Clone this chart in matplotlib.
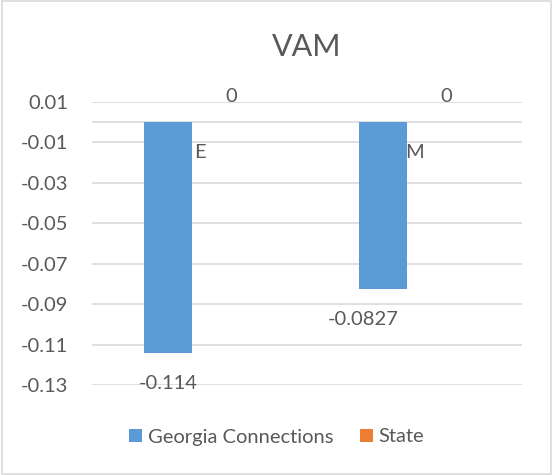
import matplotlib.pyplot as plt
import numpy as np
from matplotlib.patches import Rectangle

plt.rcParams['font.family'] = ['Lato', 'DejaVu Sans']

categories = ['E', 'M']
georgia = [-0.114, -0.0827]
state = [0, 0]
georgia_labels = ['-0.114', '-0.0827']
state_labels = ['0', '0']
yticks = [0.01, -0.01, -0.03, -0.05, -0.07, -0.09, -0.11, -0.13]

TXT = '#595959'
GRID = '#d9d9d9'
BLUE = '#5B9BD5'
ORANGE = '#ED7D31'

fig = plt.figure(figsize=(5.53, 4.75), dpi=100)
ax = fig.add_axes([0.1664, 0.1895, 0.7776, 0.5965])

x = np.arange(len(categories))
w = 0.223
off = 0.1465
ax.bar(x - off, georgia, w, color=BLUE, label='Georgia Connections', zorder=3)
ax.bar(x + off, state, w, color=ORANGE, label='State', zorder=3)

ax.set_xlim(-0.5, 1.5)
ax.set_ylim(-0.13, 0.01)
ax.set_yticks(yticks)
ax.set_yticklabels(['%g' % v for v in yticks])
ax.set_xticks([])
ax.tick_params(axis='y', length=0, labelsize=14.5, colors=TXT, pad=17)
ax.grid(axis='y', color=GRID, linewidth=1.2, zorder=0)
ax.axhline(0, color=GRID, linewidth=1.2, zorder=1)
for s in ax.spines.values():
    s.set_visible(False)

# data labels
for i, (v, lab) in enumerate(zip(georgia, georgia_labels)):
    dx = 0 if i == 0 else -14
    ax.annotate(lab, (i - off, v), xytext=(dx, -22), textcoords='offset points',
                ha='center', va='center', fontsize=14.5, color=TXT)
for i, lab in enumerate(state_labels):
    ax.annotate(lab, (i + off, 0), xytext=(0, 18), textcoords='offset points',
                ha='center', va='center', fontsize=14.5, color=TXT)
# category labels at the zero line
for i, c in enumerate(categories):
    ax.annotate(c, (i, 0), xytext=(0, -22), textcoords='offset points',
                ha='center', va='center', fontsize=14.5, color=TXT)

ax.set_title('VAM', fontsize=22, color=TXT, pad=33)

fig.legend(loc='center', bbox_to_anchor=(0.5, 0.08), ncol=2, frameon=False,
           fontsize=14.5, labelcolor=TXT, handlelength=0.65, handleheight=0.65,
           handletextpad=0.3, columnspacing=1.3)

fig.patches.append(Rectangle((0.003, 0.003), 0.994, 0.994, transform=fig.transFigure,
                             fill=False, edgecolor=GRID, linewidth=1.2))

fig.savefig('out.png', dpi=100)
